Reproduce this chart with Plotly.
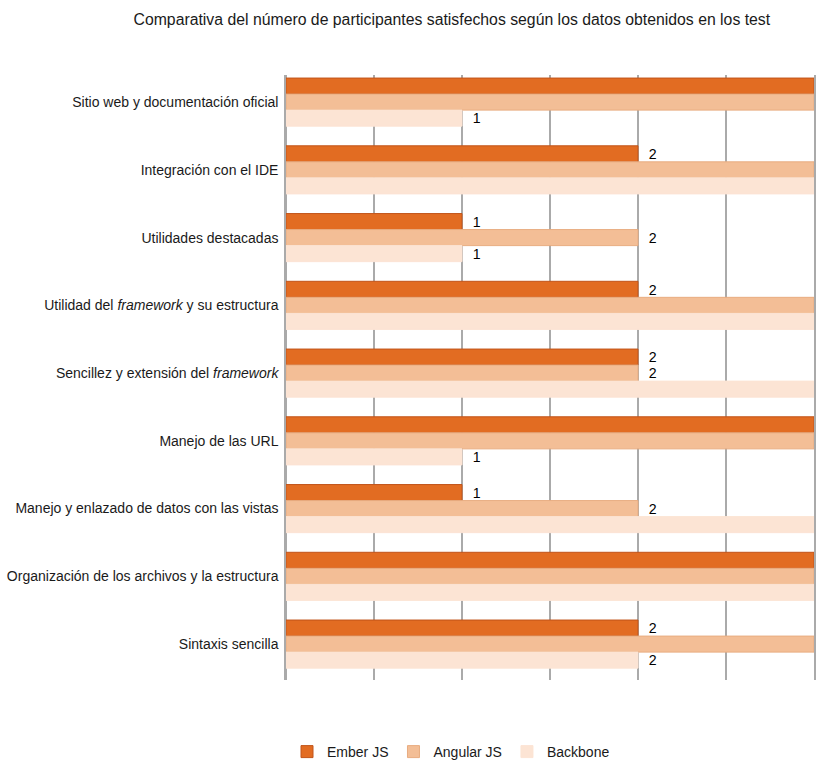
import plotly.graph_objects as go

categories = [
    "Sitio web y documentación oficial",
    "Integración con el IDE",
    "Utilidades destacadas",
    "Utilidad del <i>framework</i> y su estructura",
    "Sencillez y extensión del <i>framework</i>",
    "Manejo de las URL",
    "Manejo y enlazado de datos con las vistas",
    "Organización de los archivos y la estructura",
    "Sintaxis sencilla",
]
ember = [3, 2, 1, 2, 2, 3, 1, 3, 2]
angular = [3, 3, 2, 3, 2, 3, 2, 3, 3]
backbone = [1, 3, 1, 3, 3, 1, 3, 3, 2]
series_names = ["Ember JS", "Angular JS", "Backbone"]
colors = ["#E26C22", "#F3BE96", "#FCE4D4"]
line_colors = ["#C2541A", "#E8AC80", "#FCE4D4"]

fig = go.Figure()
for name, vals, c, lc in zip(series_names, [ember, angular, backbone], colors, line_colors):
    fig.add_trace(go.Bar(
        y=categories, x=vals, name=name, orientation="h",
        marker=dict(color=c, line=dict(color=lc, width=1)),
        text=["  " + str(v) if v < 3 else "" for v in vals],
        textposition="outside", cliponaxis=False,
        textfont=dict(family="Liberation Sans", size=15, color="#000000"),
    ))

fig.update_layout(
    width=823, height=764,
    barmode="group", bargap=0.29, bargroupgap=0,
    plot_bgcolor="white", paper_bgcolor="white",
    font=dict(family="Liberation Sans", size=14, color="#1a1a1a"),
    margin=dict(l=286, r=9, t=75, b=84),
    title=dict(text="Comparativa del número de participantes satisfechos según los datos obtenidos en los test",
               x=0.549, xanchor="center", y=0.975, yanchor="middle",
               font=dict(size=15.8, color="#1a1a1a")),
    legend=dict(orientation="h", xref="container", x=0.548, xanchor="center",
                yref="container", y=0.0157, yanchor="middle",
                font=dict(size=14), traceorder="normal"),
    showlegend=True,
)
fig.update_xaxes(range=[0, 3], dtick=0.5, showticklabels=False, showgrid=True,
                 gridcolor="#AAAAAA", gridwidth=1.5, zeroline=True, zerolinecolor="#AAAAAA",
                 zerolinewidth=1.5, automargin=False)
fig.update_yaxes(range=[8.53, -0.4], showgrid=False, ticks="", ticklabelstandoff=3,
                 showline=True, mirror=True, linecolor="#AAAAAA", linewidth=1.5,
                 automargin=False)

fig.write_html("out.html", config={"displayModeBar": False},
               post_script="document.body.style.margin='0';document.body.style.overflow='hidden';")
